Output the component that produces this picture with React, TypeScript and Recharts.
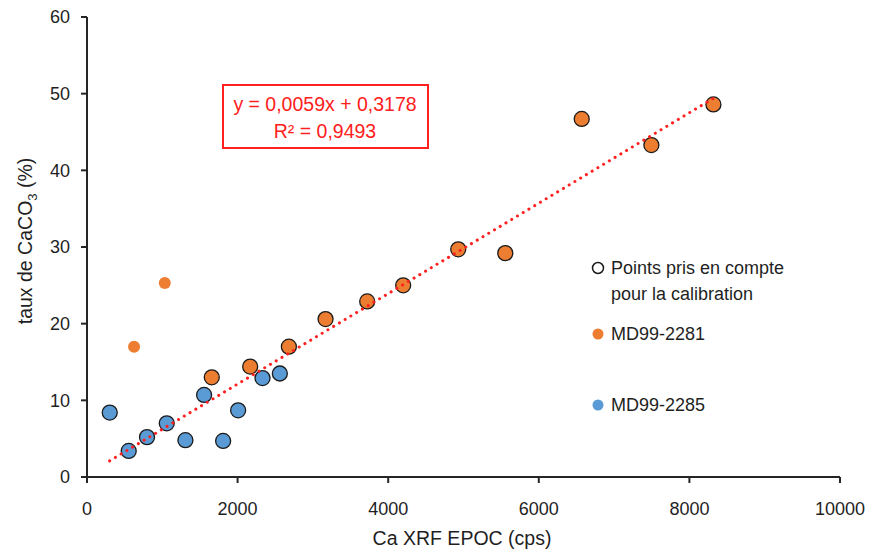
import React from "react";
import { ScatterChart, Scatter, XAxis, YAxis } from "recharts";

// MD99-2285 (all used for calibration)
const blueX = [302, 554, 797, 1059, 1307, 1555, 1808, 2007, 2331, 2561];
const blueY = [8.4, 3.4, 5.2, 7.0, 4.8, 10.7, 4.7, 8.7, 12.9, 13.5];
// MD99-2281 used for calibration
const orangeX = [1657, 2167, 2681, 3168, 3721, 4199, 4930, 5555, 6570, 7495, 8319];
const orangeY = [13.0, 14.4, 17.0, 20.6, 22.9, 25.0, 29.7, 29.2, 46.7, 43.3, 48.6];
// MD99-2281 not used
const outX = [625, 1033];
const outY = [17.0, 25.3];
// trendline ends
const trendX = [300, 8320];
const trendY = [2.1, 49.4];

const xTicks = [0, 2000, 4000, 6000, 8000, 10000];
const yTicks = [0, 10, 20, 30, 40, 50, 60];

const zip = (xs: number[], ys: number[]) => xs.map((x, i) => ({ x, y: ys[i] }));

const FONT = "'Liberation Sans', Arial, sans-serif";
const ORANGE = "#ED7D31";
const BLUE = "#5B9BD5";
const AXIS = "#262626";
const TEXT = "#1f1f1f";

const ringed = (fill: string) => (p: any) => (
	<circle cx={p.cx} cy={p.cy} r={7.5} fill={fill} stroke="#1a1a1a" strokeWidth={1.3} />
);
const plain = (fill: string) => (p: any) => <circle cx={p.cx} cy={p.cy} r={6} fill={fill} />;

export default function App() {
	return (
		<div style={{ margin: -8, position: "relative", width: 873, height: 559, background: "#fff" }}>
			<ScatterChart
				width={873}
				height={559}
				margin={{ top: 17, right: 33, left: 27, bottom: 42 }}
				style={{ fontFamily: FONT }}
			>
				<XAxis
					type="number"
					dataKey="x"
					domain={[0, 10000]}
					ticks={xTicks}
					height={40}
					stroke={AXIS}
					strokeWidth={2}
					tickSize={6}
					tickMargin={19}
					tick={{ fill: TEXT, fontSize: 18 }}
				/>
				<YAxis
					type="number"
					dataKey="y"
					domain={[0, 60]}
					ticks={yTicks}
					width={60}
					stroke={AXIS}
					strokeWidth={2}
					tickSize={6}
					tickMargin={11}
					tick={{ fill: TEXT, fontSize: 18 }}
				/>
				<Scatter data={zip(blueX, blueY)} shape={ringed(BLUE)} isAnimationActive={false} />
				<Scatter data={zip(outX, outY)} shape={plain(ORANGE)} isAnimationActive={false} />
				<Scatter data={zip(orangeX, orangeY)} shape={ringed(ORANGE)} isAnimationActive={false} />
				<Scatter
					data={zip(trendX, trendY)}
					line={{ stroke: "#FF2020", strokeWidth: 3, strokeDasharray: "0.1 6.6", strokeLinecap: "round" }}
					lineType="joint"
					shape={() => <g />}
					isAnimationActive={false}
				/>
			</ScatterChart>
			<svg
				width={873}
				height={559}
				style={{ position: "absolute", left: 0, top: 0, pointerEvents: "none", fontFamily: FONT }}
			>
				<rect x={223} y={85} width={205} height={63} fill="#fff" stroke="#FF2020" strokeWidth={2} />
				<text x={325} y={111} textAnchor="middle" fontSize={19.5} fill="#FF2020">
					y = 0,0059x + 0,3178
				</text>
				<text x={325} y={138} textAnchor="middle" fontSize={19.5} fill="#FF2020">
					R² = 0,9493
				</text>

				<circle cx={598} cy={268} r={5.5} fill="#fff" stroke="#1a1a1a" strokeWidth={1.5} />
				<text x={611} y={274} fontSize={18} fill={TEXT}>Points pris en compte</text>
				<text x={611} y={300} fontSize={18} fill={TEXT}>pour la calibration</text>
				<circle cx={598} cy={334} r={5.5} fill={ORANGE} />
				<text x={611} y={340} fontSize={18} fill={TEXT}>MD99-2281</text>
				<circle cx={598} cy={405} r={5.5} fill={BLUE} />
				<text x={611} y={411} fontSize={18} fill={TEXT}>MD99-2285</text>

				<text x={462} y={545} textAnchor="middle" fontSize={19.5} fill={TEXT}>
					Ca XRF EPOC (cps)
				</text>
				<text transform="translate(32,241) rotate(-90)" textAnchor="middle" fontSize={19.5} fill={TEXT}>
					taux de CaCO<tspan fontSize={13} dy={5}>3</tspan>
					<tspan dy={-5}> (%)</tspan>
				</text>
			</svg>
		</div>
	);
}
